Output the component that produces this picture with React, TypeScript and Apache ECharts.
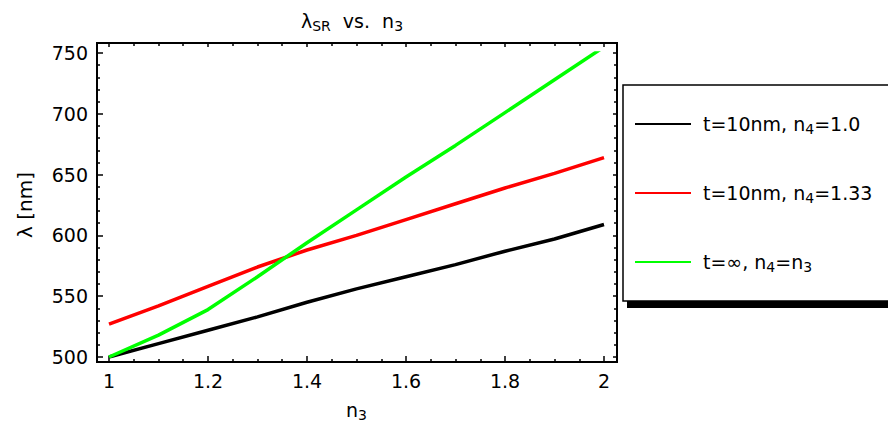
import React, { useEffect, useRef } from "react";
import * as echarts from "echarts";

// ---- data ----
const n3Values = [1.0, 1.1, 1.2, 1.3, 1.4, 1.5, 1.6, 1.7, 1.8, 1.9, 2.0];
const lambdaT10N4_1 = [500, 511, 522, 533, 545, 556, 566, 576, 587, 597, 609];
const lambdaT10N4_133 = [527, 542, 558, 574, 588, 600, 613, 626, 639, 651, 664];
const lambdaInfN4eqN3 = [500, 518, 539, 566, 594, 621, 648, 674, 701, 728, 755];

const seriesNames = ["t=10nm, n4=1.0", "t=10nm, n4=1.33", "t=∞, n4=n3"];
const legendLabels = [
  "t=10nm, n{sub|4}=1.0",
  "t=10nm, n{sub|4}=1.33",
  "t=∞, n{sub|4}=n{sub|3}",
];
const seriesColors = ["#000000", "#ff0000", "#00ff00"];
const seriesValues = [lambdaT10N4_1, lambdaT10N4_133, lambdaInfN4eqN3];

const titleText = "λ{sub|SR}  vs.  n{sub|3}";
const xAxisName = "n{sub|3}";
const yAxisName = "λ [nm]";

const FONT = "DejaVu Sans";

export default function App() {
  const ref = useRef<HTMLDivElement>(null);

  useEffect(() => {
    if (!ref.current) return;
    const chart = echarts.init(ref.current, undefined, { renderer: "svg" });

    const tickCommon = {
      axisLine: { show: false },
      splitLine: { show: false },
      minorSplitLine: { show: false },
    };

    const xBase = {
      type: "value" as const,
      min: 1,
      max: 2,
      interval: 0.2,
      ...tickCommon,
      axisTick: { show: true, inside: true, length: 6, lineStyle: { color: "#000", width: 1.5 } },
      minorTick: { show: true, splitNumber: 4, length: 3, lineStyle: { color: "#000", width: 1.5 } },
    };
    const yBase = {
      type: "value" as const,
      min: 500,
      max: 750,
      interval: 50,
      ...tickCommon,
      axisTick: { show: true, inside: true, length: 6, lineStyle: { color: "#000", width: 1.5 } },
      minorTick: { show: true, splitNumber: 5, length: 3, lineStyle: { color: "#000", width: 1.5 } },
    };

    const subStyle = {
      fontFamily: FONT,
      fontSize: 14,
      verticalAlign: "bottom",
      lineHeight: 24,
      color: "#000",
    };

    const option: any = {
      animation: false,
      backgroundColor: "#ffffff",
      grid: { left: 109, right: 284, top: 53, bottom: 71, containLabel: false },
      xAxis: [
        {
          ...xBase,
          position: "bottom",
          offset: 5,
          axisLabel: {
            show: true,
            fontFamily: FONT,
            fontSize: 19,
            color: "#000",
            margin: 9,
          },
          name: xAxisName,
          nameLocation: "middle",
          nameGap: 36,
          nameTextStyle: {
            fontFamily: FONT,
            fontSize: 19,
            color: "#000",
            rich: { sub: subStyle },
          },
        },
        {
          ...xBase,
          position: "top",
          offset: 10,
          axisTick: { ...xBase.axisTick, length: 4 },
          axisLabel: { show: false },
        },
      ],
      yAxis: [
        {
          ...yBase,
          position: "left",
          offset: 12,
          axisLabel: {
            show: true,
            fontFamily: FONT,
            fontSize: 19,
            color: "#000",
            margin: 9,
          },
          name: yAxisName,
          nameLocation: "middle",
          nameRotate: 90,
          nameGap: 62,
          nameTextStyle: { fontFamily: FONT, fontSize: 20, color: "#000" },
        },
        {
          ...yBase,
          position: "right",
          offset: 13,
          axisTick: { ...yBase.axisTick, length: 4 },
          axisLabel: { show: false },
        },
      ],
      legend: {
        show: true,
        orient: "vertical",
        left: 634,
        top: 112,
        padding: 0,
        itemWidth: 56,
        itemHeight: 24,
        itemGap: 45,
        selectedMode: false,
        z: 10,
        data: seriesNames,
        lineStyle: { width: 2 },
        itemStyle: { opacity: 0, borderWidth: 0 },
        formatter: (name: string) => legendLabels[seriesNames.indexOf(name)],
        textStyle: {
          fontFamily: FONT,
          fontSize: 19,
          lineHeight: 24,
          color: "#000",
          padding: [0, 0, 0, 7],
          rich: { sub: { ...subStyle, fontSize: 14 } },
        },
      },
      graphic: [
        // legend shadow and box
        {
          type: "rect",
          z: 1,
          shape: { x: 627, y: 90, width: 280, height: 218 },
          style: { fill: "#000" },
        },
        {
          type: "rect",
          z: 2,
          shape: { x: 623, y: 85, width: 280, height: 216 },
          style: { fill: "#fff", stroke: "#000", lineWidth: 1.5 },
        },
        // plot frame
        {
          type: "rect",
          z: 100,
          shape: { x: 97, y: 43, width: 520, height: 319 },
          style: { fill: "none", stroke: "#000", lineWidth: 2 },
        },
        // title
        {
          type: "text",
          z: 100,
          x: 352,
          y: 21,
          style: {
            text: titleText,
            align: "center",
            verticalAlign: "middle",
            fontFamily: FONT,
            fontSize: 19,
            lineHeight: 24,
            fill: "#000",
            rich: {
              sub: { fontFamily: FONT, fontSize: 14, verticalAlign: "bottom", lineHeight: 24, fill: "#000" },
            },
          },
        },
      ],
      series: seriesNames.map((name, si) => ({
        name,
        type: "line",
        xAxisIndex: 0,
        yAxisIndex: 0,
        symbol: "none",
        showSymbol: false,
        smooth: false,
        color: seriesColors[si],
        lineStyle: { color: seriesColors[si], width: 3.5 },
        z: 3,
        data: n3Values.map((n, i) => [n, seriesValues[si][i]]),
      })),
    };

    chart.setOption(option);
    return () => chart.dispose();
  }, []);

  return (
    <div
      ref={ref}
      style={{ position: "fixed", left: 0, top: 0, width: 888, height: 428, background: "#fff" }}
    />
  );
}
